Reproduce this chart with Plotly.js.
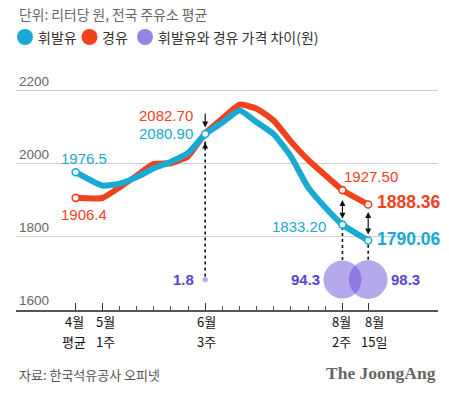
<!DOCTYPE html>
<html><head><meta charset="utf-8">
<script src="https://cdn.plot.ly/plotly-3.0.1.min.js"></script>
<style>html,body{margin:0;padding:0;background:#fff}#chart{width:449px;height:393px}</style>
</head><body><div id="chart"></div>
<script>
// ---- data ----
const xLabelTop = ['4월', '5월', '6월', '8월', '8월'];
const xLabelBottom = ['평균', '1주', '3주', '2주', '15일'];
const xLabelPos = [-1.55, 0, 6, 14, 15.5];
const minorWeeks = [1, 2, 3, 4, 5, 7, 8, 9, 10, 11, 12, 13];
const weekPos = [-1.55, 0, 1, 2, 3, 4, 5, 6, 7, 8, 9, 10, 11, 12, 13, 14, 15.5];
const gasoline = [1976.5, 1940, 1945, 1963, 1987, 2005, 2029, 2080.9, 2112, 2144.9, 2113, 2080, 2019, 1935, 1880, 1833.2, 1790.06];
const diesel   = [1906.4, 1906, 1935, 1967, 1999, 2001, 2020, 2082.7, 2123, 2161, 2150, 2117, 2060, 2010, 1968, 1927.5, 1888.36];
const gasMarkIdx = [0, 7, 15, 16];
const dieselMarkIdx = [0, 15, 16];
const gapIdx = [7, 15, 16];
const gapValues = [1.8, 94.3, 98.3];
const yTicks = [1600, 1800, 2000, 2200];
const legendNames = ['휘발유', '경유', '휘발유와 경유 가격 차이(원)'];
const unitText = '단위: 리터당 원, 전국 주유소 평균';
const sourceText = '자료: 한국석유공사 오피넷';
const brandText = 'The JoongAng';

// ---- style / layout constants ----
const W = 449, H = 393;
const M = {l: 16, r: 11, t: 60, b: 83};
const Y_RANGE = [1600, 2283];
const X_RANGE = [-5.03, 19.57];
const BUBBLE_Y = 1683;
const SIZEREF = 0.1306;
const BLUE = '#19a9d3', RED = '#f0421d', PURPLE = 'rgba(100,72,212,0.68)', PURPLE_TXT = '#5a45c6';
const NUM_FONT = 'Liberation Sans, Arial, sans-serif';
const KR_FONT = 'Noto Sans CJK KR, sans-serif';
const X_LABEL_SHIFT = [-1.5, 3, 1, -1, 6];

const plotW = W - M.l - M.r, plotH = H - M.t - M.b;
const px = x => (x - M.l) / plotW;
const py = y => (H - M.b - y) / plotH;
const unitsPerPx = (Y_RANGE[1] - Y_RANGE[0]) / plotH;
const bubbleR = v => Math.sqrt(v / (2 * SIZEREF));
const pick = (arr, idx) => idx.map(i => arr[i]);

const traces = [
  {x: weekPos, y: diesel, mode: 'lines', line: {color: RED, width: 6, shape: 'spline', smoothing: 0.5}, hoverinfo: 'skip'},
  {x: weekPos, y: gasoline, mode: 'lines', line: {color: BLUE, width: 6, shape: 'spline', smoothing: 0.5}, hoverinfo: 'skip'},
  {x: pick(weekPos, dieselMarkIdx), y: pick(diesel, dieselMarkIdx), mode: 'markers',
   marker: {size: 7, color: '#fff', line: {color: RED, width: 1.6}}, hoverinfo: 'skip'},
  {x: pick(weekPos, gasMarkIdx), y: pick(gasoline, gasMarkIdx), mode: 'markers',
   marker: {size: 7, color: '#fff', line: {color: BLUE, width: 1.6}}, hoverinfo: 'skip'},
  {x: pick(weekPos, gapIdx), y: gapIdx.map(() => BUBBLE_Y), mode: 'markers',
   marker: {size: gapValues, sizemode: 'area', sizeref: SIZEREF, color: PURPLE, line: {width: 0}}, hoverinfo: 'skip'}
];

const ann = [];
const shapes = [];
const txt = (text, x, y, xanchor, size, color, family, weight) => ({
  text, x: px(x), y: py(y), xref: 'paper', yref: 'paper', xanchor, yanchor: 'middle',
  showarrow: false, font: {size, color, family, weight: weight || 'normal'}
});

// header / legend / footer
ann.push(txt(unitText, 17, 14, 'left', 13.8, '#666', KR_FONT));
const legendX = [25, 89.5, 145];
const legendCol = [BLUE, RED, PURPLE];
legendNames.forEach((n, i) => {
  ann.push(txt(n, legendX[i] + 10.5, 37, 'left', 14, '#333', KR_FONT));
  shapes.push({type: 'circle', xref: 'paper', yref: 'paper', xsizemode: 'pixel', ysizemode: 'pixel',
    xanchor: 0, yanchor: 1, x0: legendX[i] - M.l - 8, x1: legendX[i] - M.l + 8,
    y0: M.t - 37 - 8, y1: M.t - 37 + 8, fillcolor: legendCol[i], line: {width: 0}});
});
ann.push(txt(sourceText, 17, 374, 'left', 13, '#555', KR_FONT));
ann.push(txt(brandText, 438, 373, 'right', 17.5, '#666', 'Liberation Serif, Times New Roman, serif', 'bold'));

// x category labels (two separate lines at each axis tick position)
xLabelPos.forEach((xv, i) => {
  [[xLabelTop[i], 321.5], [xLabelBottom[i], 341.5]].forEach(([t, yy]) => ann.push({
    text: t, x: xv, xref: 'x', y: py(yy), yref: 'paper', xanchor: 'center', yanchor: 'middle',
    xshift: X_LABEL_SHIFT[i], showarrow: false, borderpad: 0,
    font: {size: 13, color: '#111', family: KR_FONT}
  }));
});

// value labels
const dl = (text, i, arr, color, xanchor, xshift, yshift, size, bold) => ann.push({
  text, x: weekPos[i], y: arr[i], xref: 'x', yref: 'y', xanchor, yanchor: 'middle',
  xshift, yshift, showarrow: false, font: {size, color, family: NUM_FONT, weight: bold ? 'bold' : 'normal'}
});
dl(gasoline[0].toFixed(1), 0, gasoline, BLUE, 'center', 8, 14, 15);
dl(diesel[0].toFixed(1), 0, diesel, RED, 'center', 8, -17, 15);
dl(diesel[7].toFixed(2), 7, diesel, RED, 'right', -10.5, 18, 15);
dl(gasoline[7].toFixed(2), 7, gasoline, BLUE, 'right', -10, 0.5, 15);
dl(diesel[15].toFixed(2), 15, diesel, RED, 'left', 0, 13.5, 15);
dl(diesel[16].toFixed(2), 16, diesel, RED, 'left', 7, 2, 17.5, true);
dl(gasoline[15].toFixed(2), 15, gasoline, BLUE, 'right', -14, -2, 15);
dl(gasoline[16].toFixed(2), 16, gasoline, BLUE, 'left', 6.5, 1, 17.5, true);

// gap bubble labels + dotted connectors
gapIdx.forEach((i, k) => {
  const r = bubbleR(gapValues[k]);
  const right = k === 2;
  ann.push({text: String(gapValues[k]), x: weekPos[i], y: BUBBLE_Y, xref: 'x', yref: 'y',
    xanchor: right ? 'left' : 'right', yanchor: 'middle', xshift: right ? r + 1.5 : -(r + 6.5 - (k === 0 ? 0 : 5)),
    showarrow: false, font: {size: 15, color: PURPLE_TXT, family: NUM_FONT, weight: 'bold'}});
  shapes.push({type: 'line', xref: 'x', yref: 'y', layer: 'between',
    x0: weekPos[i], x1: weekPos[i], y0: BUBBLE_Y + (r + 0.5) * unitsPerPx, y1: gasoline[i],
    line: {color: '#111', width: 1.6, dash: 'dot'}});
});

// arrows
const arrowBase = {xref: 'x', yref: 'y', showarrow: true, text: '', arrowcolor: '#111', arrowwidth: 1.2, arrowhead: 2, arrowsize: 1};
ann.push(Object.assign({}, arrowBase, {x: weekPos[7], y: gasoline[7], ax: 0, ay: -22, standoff: 6.5}));
ann.push(Object.assign({}, arrowBase, {x: weekPos[7], y: gasoline[7], ax: 0, ay: 17, standoff: 8.5}));
[15, 16].forEach(i => ann.push(Object.assign({}, arrowBase, {
  x: weekPos[i], y: gasoline[i], axref: 'x', ayref: 'y', ax: weekPos[i], ay: diesel[i],
  arrowside: 'end+start', startarrowhead: 2, startarrowsize: 1, standoff: 6, startstandoff: i === 15 ? 8.5 : 6
})));

const layout = {
  width: W, height: H, margin: M, paper_bgcolor: '#fff', plot_bgcolor: '#fff',
  showlegend: false,
  font: {family: NUM_FONT},
  xaxis: {
    range: X_RANGE, showgrid: false, zeroline: false,
    showline: true, linecolor: '#555', linewidth: 2,
    tickmode: 'array', tickvals: xLabelPos, showticklabels: false,
    ticks: 'inside', ticklen: 7, tickwidth: 1.3, tickcolor: '#333',
    minor: {tickmode: 'array', tickvals: minorWeeks, ticks: 'inside', ticklen: 4, tickwidth: 1, tickcolor: '#555', showgrid: false}
  },
  yaxis: {
    range: Y_RANGE, tickmode: 'array', tickvals: yTicks,
    showgrid: true, gridcolor: '#d0d0d0', gridwidth: 1, zeroline: false, showline: false,
    ticks: '', ticklabelposition: 'inside top',
    tickfont: {size: 13.5, color: '#666', family: NUM_FONT}
  },
  shapes, annotations: ann
};

Plotly.newPlot('chart', traces, layout, {displayModeBar: false, staticPlot: true});
</script>
</body></html>
